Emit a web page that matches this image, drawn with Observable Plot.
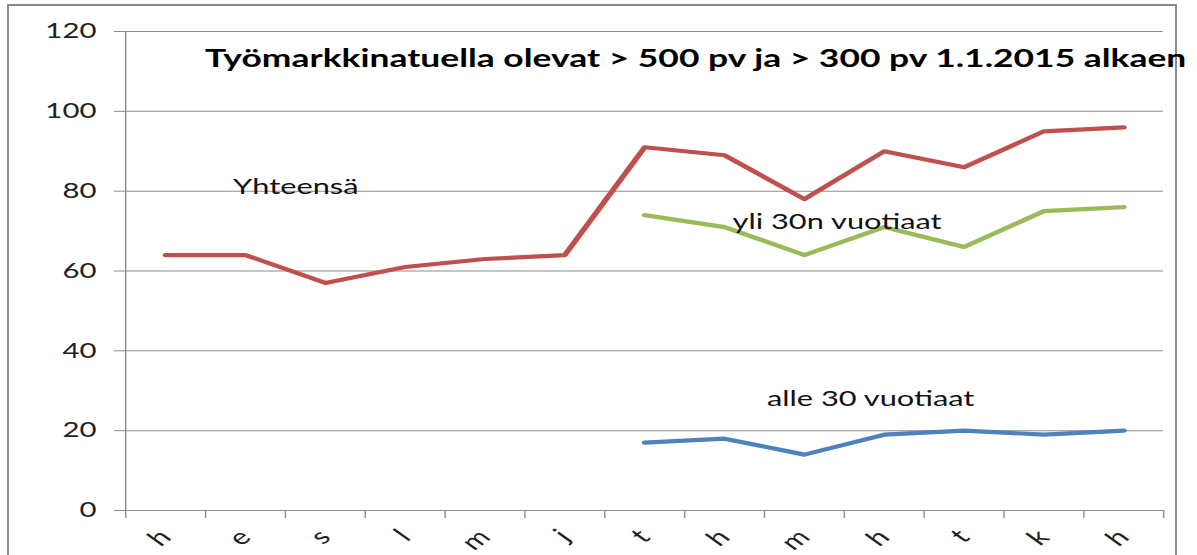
<!DOCTYPE html>
<html>
<head>
<meta charset="utf-8">
<script src="https://cdn.jsdelivr.net/npm/d3@7"></script>
<script src="https://cdn.jsdelivr.net/npm/@observablehq/plot@0.6"></script>
<style>
  html, body { margin: 0; padding: 0; background: #ffffff; }
  #wrap { position: relative; width: 1197px; height: 555px; overflow: hidden; background: #fff; }
  #border { position: absolute; left: 7px; top: 4px; width: 1170px; height: 700px; border: 2.5px solid #8a8a8a; box-sizing: border-box; }
  #chart { position: absolute; left: 0; top: 0; transform-origin: 0 0; }
</style>
</head>
<body>
<div id="wrap">
  <div id="border"></div>
  <div id="chart"></div>
</div>
<script>
// ---- data ----
const months = ["h", "e", "s", "l", "m", "j", "t", "h", "m", "h", "t", "k", "h"];
const yhteensa = [64, 64, 57, 61, 63, 64, 91, 89, 78, 90, 86, 95, 96];
const yli30 = [null, null, null, null, null, null, 74, 71, 64, 71, 66, 75, 76];
const alle30 = [null, null, null, null, null, null, 17, 18, 14, 19, 20, 19, 20];
const yTicks = [0, 20, 40, 60, 80, 100, 120];
const title = "Työmarkkinatuella olevat > 500 pv ja > 300 pv 1.1.2015 alkaen";
const seriesNames = ["Yhteensä", "yli 30n vuotiaat", "alle 30 vuotiaat"];
const seriesColors = ["#c0504d", "#9bbb59", "#4f81bd"];
// label anchor positions (category index, value)
const labelX = [1.63, 8.41, 8.83];
const labelY = [81, 72.2, 28];

// ---- build ----
const sx = 1.4;                 // horizontal stretch of the original picture
const W = 1197 / sx;
const toRows = (vals) => vals.map((v, i) => ({i, v}));
const labels = seriesNames.map((t, k) => ({t, x: labelX[k], y: labelY[k], c: seriesColors[k]}));
const idx = d3.range(months.length);
const bounds = d3.range(months.length + 1).map(i => i - 0.5);

const plot = Plot.plot({
  width: W,
  height: 555,
  marginLeft: 125 / sx,
  marginRight: 34 / sx,
  marginTop: 31,
  marginBottom: 45,
  style: {fontFamily: "Lato, 'Open Sans', sans-serif", fontSize: "20px", color: "#222", background: "transparent", overflow: "visible"},
  x: {type: "linear", domain: [-0.5, months.length - 0.5], axis: null},
  y: {domain: [0, 120], axis: null},
  marks: [
    Plot.gridY(yTicks, {stroke: "#8c8c8c", strokeOpacity: 1, strokeWidth: 1}),
    Plot.axisY(yTicks, {tickSize: 11 / sx, tickPadding: 13, stroke: "#8c8c8c", fontSize: 21, fill: "#222"}),
    Plot.ruleX([-0.5], {stroke: "#8c8c8c", strokeWidth: 1}),
    Plot.axisX(bounds, {tickSize: 8, tickFormat: () => "", stroke: "#8c8c8c"}),
    Plot.axisX(idx, {tickSize: 0, tickPadding: 23, tickRotate: -45, tickFormat: i => months[i], fontSize: 22, fill: "#222"}),
    Plot.line(toRows(yhteensa), {x: "i", y: "v", stroke: seriesColors[0], strokeWidth: 4.2, strokeLinejoin: "round", strokeLinecap: "round"}),
    Plot.line(toRows(yli30), {x: "i", y: "v", stroke: seriesColors[1], strokeWidth: 4.2, strokeLinejoin: "round", strokeLinecap: "round"}),
    Plot.line(toRows(alle30), {x: "i", y: "v", stroke: seriesColors[2], strokeWidth: 4.2, strokeLinejoin: "round", strokeLinecap: "round"}),
    Plot.text(labels, {x: "x", y: "y", text: "t", fontSize: 22, fill: "#111"}),
    Plot.text([title], {frameAnchor: "top", dx: 51 / sx, dy: 27, lineAnchor: "middle", fontSize: 25.3, fontWeight: "bold", fill: "#000"})
  ]
});

const chart = document.getElementById("chart");
chart.style.transform = `scaleX(${sx})`;
chart.appendChild(plot);
</script>
</body>
</html>
